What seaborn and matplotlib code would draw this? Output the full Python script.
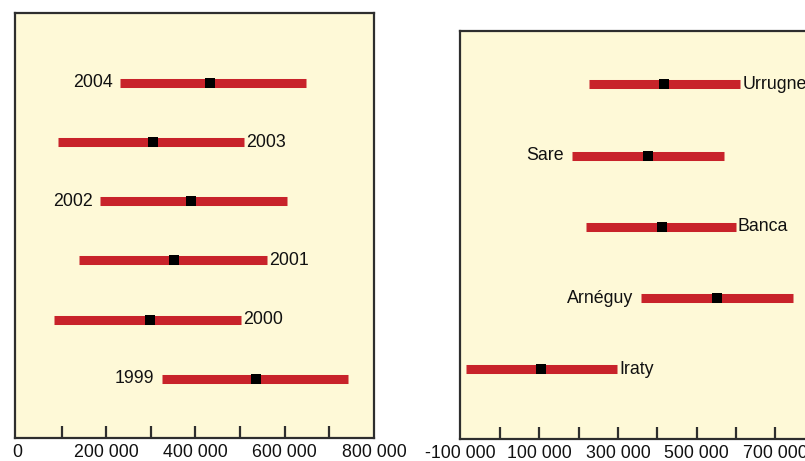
import matplotlib
matplotlib.use("Agg")
import matplotlib.pyplot as plt
import seaborn as sns
import pandas as pd

# ---- data ----
years = ["1999", "2000", "2001", "2002", "2003", "2004"]
year_low = [324000, 84000, 140000, 187000, 93000, 231000]
year_mid = [536000, 298000, 351000, 391000, 304000, 433000]
year_high = [742000, 502000, 560000, 604000, 509000, 647000]
year_label_side = ["left", "right", "right", "left", "right", "left"]

sites = ["Iraty", "Arnéguy", "Banca", "Sare", "Urrugne"]
site_low = [-87000, 359000, 219000, 183000, 226000]
site_mid = [104000, 552000, 412000, 377000, 417000]
site_high = [298000, 746000, 600000, 570000, 611000]
site_label_side = ["right", "left", "right", "left", "right"]

left_tick_marks = [100000, 200000, 300000, 400000, 500000, 600000, 700000]
left_tick_labels = ["0", "200 000", "400 000", "600 000", "800 000"]
left_tick_label_vals = [0, 200000, 400000, 600000, 800000]
right_tick_marks = [0, 100000, 200000, 300000, 400000, 500000, 600000, 700000]
right_tick_labels = ["-100 000", "100 000", "300 000", "500 000", "700 000"]
right_tick_label_vals = [-100000, 100000, 300000, 500000, 700000]

# ---- style ----
sns.set_theme(style="white")
plt.rcParams["font.family"] = ["Liberation Sans", "DejaVu Sans"]

W, H = 805, 461
fig = plt.figure(figsize=(W / 100, H / 100), dpi=100)
fig.patch.set_facecolor("white")

BG = "#FEF9D7"
RED = "#C8232A"
FRAME = "#2E2E2E"
FS = 12.8


def px_axes(x0, x1, ytop, ybot):
    return fig.add_axes([x0 / W, (H - ybot) / H, (x1 - x0) / W, (ybot - ytop) / H])


def draw_panel(ax, names, low, mid, high, sides, xlim, ylim,
               marks, lab_vals, labs):
    df = pd.DataFrame({"name": names, "low": low, "mid": mid, "high": high,
                       "pos": list(range(len(names))), "side": sides})
    ax.set_facecolor(BG)
    ax.hlines(df["pos"], df["low"], df["high"], color=RED, linewidth=6.5,
              capstyle="butt", zorder=2)
    sns.scatterplot(data=df, x="mid", y="pos", marker="s", s=50,
                    color="black", edgecolor="black", linewidth=0,
                    ax=ax, zorder=3, legend=False)
    for _, r in df.iterrows():
        if r["side"] == "left":
            ax.annotate(r["name"], (r["low"], r["pos"]), xytext=(-5.5, 0),
                        textcoords="offset points", ha="right", va="center",
                        fontsize=FS, color="#111111")
        else:
            ax.annotate(r["name"], (r["high"], r["pos"]), xytext=(1.5, 0),
                        textcoords="offset points", ha="left", va="center",
                        fontsize=FS, color="#111111")
    ax.set_xlim(*xlim)
    ax.set_ylim(*ylim)
    ax.set_xlabel("")
    ax.set_ylabel("")
    ax.set_yticks([])
    ax.xaxis.remove_overlapping_locs = False
    ax.set_xticks(marks)
    ax.set_xticklabels([])
    ax.set_xticks(lab_vals, labels=labs, minor=True)
    ax.tick_params(axis="x", which="major", direction="in", length=8.5,
                   width=1.6, color=FRAME, bottom=True)
    ax.tick_params(axis="x", which="minor", length=0, pad=4,
                   labelsize=FS, labelcolor="#111111", bottom=True)
    for sp in ax.spines.values():
        sp.set_visible(True)
        sp.set_color(FRAME)
        sp.set_linewidth(1.6)


# left panel: 0 at x=17 px, 45 px per 100 000
axL = px_axes(15, 374, 13, 438)
draw_panel(axL, years, year_low, year_mid, year_high, year_label_side,
           (-4400, 793000), (-1.0, 6.18),
           left_tick_marks, left_tick_label_vals, left_tick_labels)

# right panel: 0 at x=500 px, 39.3 px per 100 000 (extends past the image)
axR = px_axes(460, 860, 31, 439)
draw_panel(axR, sites, site_low, site_mid, site_high, site_label_side,
           (-101800, 916000), (-0.98, 4.75),
           right_tick_marks, right_tick_label_vals, right_tick_labels)

fig.savefig("out.png", dpi=100, facecolor="white")
